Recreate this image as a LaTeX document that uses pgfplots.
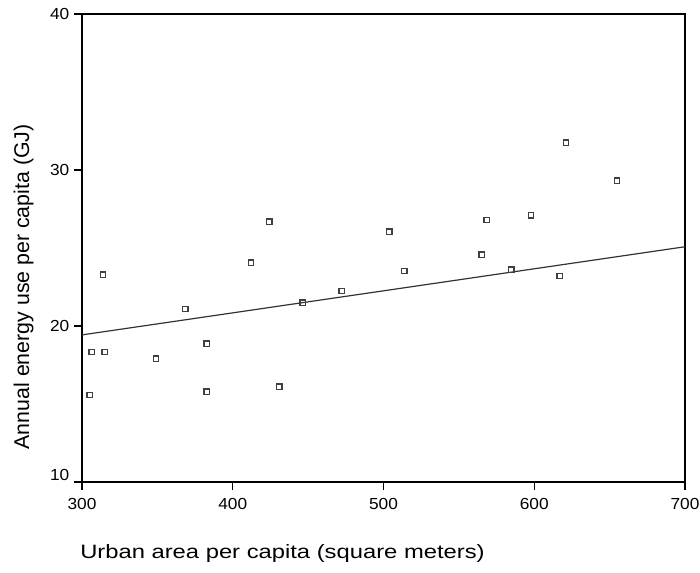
\documentclass[border=0pt]{standalone}
\usepackage{fontspec}
\setmainfont{Liberation Sans}
\newfontfamily\tickfont[FakeStretch=1.08]{Liberation Sans}
\newfontfamily\xlabfont[FakeStretch=1.23]{Liberation Sans}
\usepackage{pgfplots}
\pgfplotsset{compat=1.18}
\definecolor{pt}{HTML}{404040}
\definecolor{fit}{HTML}{333333}
\begin{document}
\begin{tikzpicture}
% page = 700x572 px at 0.75pt per px, axis origin at (82,482) px
\useasboundingbox (-61.5pt,-67.5pt) rectangle (463.5pt,361.5pt);
\begin{axis}[
  scale only axis,
  width=452.25pt, height=351pt,
  xmin=300, xmax=700, ymin=10, ymax=40,
  xtick={300,400,500,600,700}, ytick={20,30,40},
  extra y ticks={10},
  extra y tick style={yticklabel style={yshift=5pt}},
  axis line style={line width=1.1pt,black},
  tick style={line width=0.8pt,black},
  tick align=outside, major tick length=6pt,
  xtick pos=bottom, ytick pos=left,
  /pgf/number format/assume math mode=true,
  tick label style={font=\tickfont\fontsize{12}{14}\selectfont},
  xticklabel style={yshift=-3pt},
  xlabel={Urban area per capita (square meters)},
  ylabel={Annual energy use per capita (GJ)},
  xlabel style={font=\xlabfont\fontsize{14.5}{17}\selectfont, at={(axis description cs:0,0)}, anchor=north west, inner sep=0pt, yshift=-47pt, xshift=-1.5pt},
  ylabel style={font=\fontsize{16}{19}\selectfont, at={(axis description cs:0,0.417)}, anchor=north, inner sep=0pt, yshift=51.5pt},
]
\addplot[only marks, mark=square, mark size=2pt, mark options={draw=pt, line width=1pt}] coordinates {
(306.4,18.33) (315.1,18.34) (305.1,15.58) (314.0,23.29) (349.0,17.90)
(368.5,21.08) (382.7,18.86) (382.7,15.80) (412.2,24.06) (424.3,26.68)
(430.8,16.12) (446.3,21.49) (472.2,22.24) (503.9,26.05) (513.9,23.52)
(565.1,24.57) (568.4,26.80) (584.8,23.61) (597.9,27.10) (616.8,23.20)
(621.0,31.76) (654.9,29.32)
};
\addplot[fit, line width=0.9pt] coordinates {(300,19.43) (700,25.08)};
\end{axis}
\end{tikzpicture}
\end{document}
